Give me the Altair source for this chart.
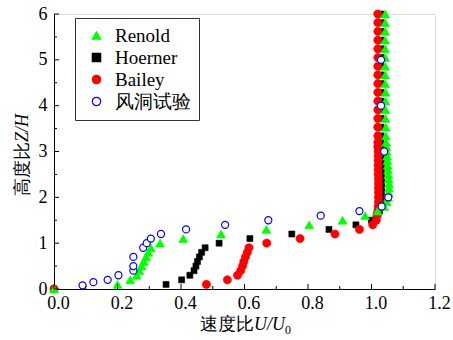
import altair as alt
import pandas as pd

# ---------------- data ----------------
renold_x = [0.0, 0.20, 0.24, 0.26, 0.269, 0.276, 0.283, 0.29, 0.297, 0.305, 0.334, 0.407, 0.526, 0.669, 0.804, 0.909, 0.98, 1.019,
            1.040, 1.048, 1.052, 1.054, 1.055, 1.055, 1.054, 1.053, 1.052, 1.051, 1.050, 1.049, 1.048, 1.047, 1.046,
            1.045, 1.045, 1.044, 1.044, 1.044, 1.044, 1.043, 1.043, 1.043, 1.043, 1.043, 1.043, 1.043, 1.043, 1.043]
renold_z = [0.0, 0.1, 0.2, 0.3, 0.4, 0.5, 0.6, 0.7, 0.8, 0.9, 1.0, 1.1, 1.2, 1.3, 1.4, 1.5, 1.6, 1.7,
            1.8, 1.9, 2.0, 2.1, 2.2, 2.3, 2.4, 2.5, 2.6, 2.7, 2.8, 2.9, 3.0, 3.1, 3.2,
            3.34, 3.53, 3.72, 3.91, 4.10, 4.29, 4.48, 4.67, 4.86, 5.05, 5.24, 5.43, 5.62, 5.81, 6.0]

hoerner_x = [0.0, 0.353, 0.402, 0.428, 0.441, 0.447, 0.452, 0.458, 0.465, 0.476, 0.52, 0.617, 0.749, 0.866, 0.951, 1.0, 1.015, 1.025,
             1.030, 1.031, 1.032, 1.032, 1.032, 1.032, 1.032, 1.031, 1.031, 1.031, 1.031, 1.031, 1.031, 1.030, 1.030,
             1.030, 1.030, 1.030, 1.030, 1.030, 1.030, 1.030, 1.030, 1.030, 1.030, 1.030, 1.030, 1.030, 1.030, 1.030]
hoerner_z = [0.0, 0.1, 0.2, 0.3, 0.4, 0.5, 0.6, 0.7, 0.8, 0.9, 1.0, 1.1, 1.2, 1.3, 1.4, 1.5, 1.6, 1.7,
             1.8, 1.9, 2.0, 2.1, 2.2, 2.3, 2.4, 2.5, 2.6, 2.7, 2.8, 2.9, 3.0, 3.1, 3.2,
             3.34, 3.53, 3.72, 3.91, 4.10, 4.29, 4.48, 4.67, 4.86, 5.05, 5.24, 5.43, 5.62, 5.81, 6.0]

bailey_x = [0.0, 0.48, 0.546, 0.578, 0.588, 0.594, 0.598, 0.603, 0.609, 0.614, 0.67, 0.775, 0.885, 0.962, 1.004, 1.015, 1.018, 1.020,
            1.021, 1.022, 1.022, 1.022, 1.022, 1.022, 1.022, 1.021, 1.021, 1.021, 1.021, 1.021, 1.021, 1.020, 1.020,
            1.020, 1.020, 1.020, 1.020, 1.020, 1.020, 1.020, 1.020, 1.020, 1.020, 1.020, 1.020, 1.020, 1.020, 1.020]
bailey_z = [0.0, 0.1, 0.2, 0.3, 0.4, 0.5, 0.6, 0.7, 0.8, 0.9, 1.0, 1.1, 1.2, 1.3, 1.4, 1.5, 1.6, 1.7,
            1.8, 1.9, 2.0, 2.1, 2.2, 2.3, 2.4, 2.5, 2.6, 2.7, 2.8, 2.9, 3.0, 3.1, 3.2,
            3.34, 3.53, 3.72, 3.91, 4.10, 4.29, 4.48, 4.67, 4.86, 5.05, 5.24, 5.43, 5.62, 5.81, 6.0]

tunnel_x = [0.09, 0.124, 0.169, 0.203, 0.25, 0.25, 0.25, 0.281, 0.292, 0.305, 0.337, 0.416, 0.539, 0.675, 0.84, 0.962,
            1.032, 1.053, 1.04, 1.03, 1.03]
tunnel_z = [0.08, 0.15, 0.2, 0.3, 0.4, 0.5, 0.7, 0.9, 1.0, 1.1, 1.2, 1.3, 1.4, 1.5, 1.6, 1.7,
            1.8, 2.0, 3.0, 4.0, 5.0]

series_names = ["Renold", "Hoerner", "Bailey", "风洞试验"]
fill_colors = ["#00ff00", "#000000", "#ff0000", "#ffffff"]
stroke_colors = ["#00ff00", "#000000", "#ff0000", "#0000ff"]
shapes = ["triangle-up", "square", "circle", "circle"]

x_major = [0.0, 0.2, 0.4, 0.6, 0.8, 1.0, 1.2]
x_minor = [0.1, 0.3, 0.5, 0.7, 0.9, 1.1]
y_major = [0, 1, 2, 3, 4, 5, 6]
y_minor = [0.5, 1.5, 2.5, 3.5, 4.5, 5.5]

W, H = 381, 275
FONT_AX = "Liberation Serif"
FONT_LEG = "Times New Roman"
FONT_TTL = "serif"

xscale = alt.Scale(domain=[0, 1.2], nice=False, zero=False)
yscale = alt.Scale(domain=[0, 6], nice=False, zero=False)

fill_scale = alt.Scale(domain=series_names, range=fill_colors)
stroke_scale = alt.Scale(domain=series_names, range=stroke_colors)
shape_scale = alt.Scale(domain=series_names, range=shapes)

legend = alt.Legend(
    orient="none", legendX=21, legendY=4, title=None,
    strokeColor="#333333", padding=8, fillColor="white",
    labelFont=FONT_LEG, labelFontSize=19, labelColor="black",
    symbolSize=70, symbolStrokeWidth=1.2, symbolOffset=4, labelOffset=9,
    rowPadding=2, labelLimit=200,
)

xaxis = alt.Axis(values=x_major, format=".1f", title=None, ticks=False,
                 grid=False, domainColor="black", domainWidth=1,
                 labelFont=FONT_AX, labelFontSize=18, labelColor="black", labelPadding=5,
                 labelOffset=4, labelFlush=False)
yaxis = alt.Axis(values=y_major, format="d", title=None, ticks=False,
                 grid=False, domainColor="black", domainWidth=1,
                 labelFont=FONT_AX, labelFontSize=18, labelColor="black", labelPadding=7,
                 labelFlush=False)


def series_layer(name, xs, zs, size, sw):
    d = pd.DataFrame({"series": name, "u": xs, "z": zs})
    enc = dict(
        x=alt.X("u:Q", scale=xscale, axis=xaxis),
        y=alt.Y("z:Q", scale=yscale, axis=yaxis),
        fill=alt.Fill("series:N", scale=fill_scale, legend=legend),
        stroke=alt.Stroke("series:N", scale=stroke_scale, legend=legend),
        shape=alt.Shape("series:N", scale=shape_scale, legend=legend),
    )
    return alt.Chart(d).mark_point(size=size, strokeWidth=sw, opacity=1, fillOpacity=1).encode(**enc)


# drawing order: Hoerner, Bailey, Renold, wind tunnel
hoerner = series_layer("Hoerner", hoerner_x, hoerner_z, 36, 0.6)
bailey = series_layer("Bailey", bailey_x, bailey_z, 68, 0.6)
renold = series_layer("Renold", renold_x, renold_z, 82, 0.6)
tunnel = series_layer("风洞试验", tunnel_x, tunnel_z, 50, 1.2)

# inward tick marks
xt_major = alt.Chart(pd.DataFrame({"u": x_major})).mark_rule(color="black", strokeWidth=1).encode(
    x=alt.X("u:Q", scale=xscale, axis=xaxis), y=alt.value(H), y2=alt.value(H - 5))
xt_minor = alt.Chart(pd.DataFrame({"u": x_minor})).mark_rule(color="black", strokeWidth=1).encode(
    x=alt.X("u:Q", scale=xscale, axis=xaxis), y=alt.value(H), y2=alt.value(H - 3))
yt_major = alt.Chart(pd.DataFrame({"z": y_major})).mark_rule(color="black", strokeWidth=1).encode(
    y=alt.Y("z:Q", scale=yscale, axis=yaxis), x=alt.value(0), x2=alt.value(5))
yt_minor = alt.Chart(pd.DataFrame({"z": y_minor})).mark_rule(color="black", strokeWidth=1).encode(
    y=alt.Y("z:Q", scale=yscale, axis=yaxis), x=alt.value(0), x2=alt.value(3))

# axis titles with mixed styles
one = pd.DataFrame({"k": [0]})
def txt(s, x, y, style="normal", size=18, angle=0):
    return alt.Chart(one).mark_text(text=s, font=FONT_TTL, fontSize=size, fontStyle=style, align="left",
                                    baseline="alphabetic", angle=angle, color="black").encode(
        x=alt.value(x), y=alt.value(y))

xt1 = txt("速度比", 146, 316)
xt2 = txt("U/U", 200, 316, style="italic")
xt3 = txt("0", 231, 320, size=12)
yt1 = txt("高度比", -26, 182, angle=270)
yt2 = txt("Z/H", -26, 128, style="italic", angle=270)

chart = alt.layer(hoerner, bailey, renold, tunnel, xt_major, xt_minor, yt_major, yt_minor,
                  xt1, xt2, xt3, yt1, yt2).properties(
    width=W, height=H,
    autosize=alt.AutoSizeParams(type="none"),
    padding={"left": 54, "top": 14, "right": 18, "bottom": 51},
).configure_view(stroke=None).configure(background="white")

chart.save("out.html", embed_options={"renderer": "svg", "actions": False})
